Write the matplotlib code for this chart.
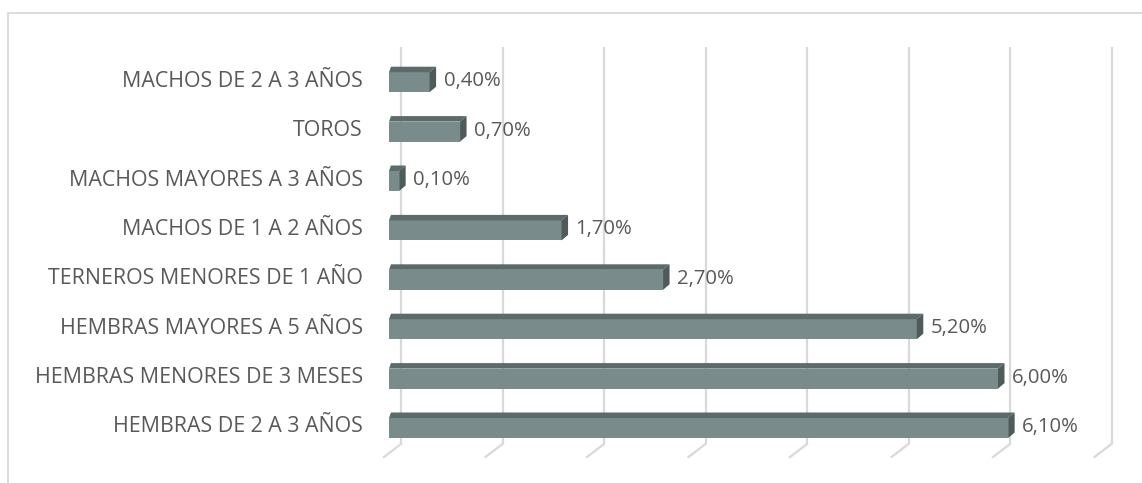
import matplotlib
matplotlib.use("Agg")
import matplotlib.pyplot as plt
from matplotlib.patches import Polygon, Rectangle
from matplotlib.lines import Line2D

categories = [
    "HEMBRAS DE 2 A 3 AÑOS",
    "HEMBRAS MENORES DE 3 MESES",
    "HEMBRAS MAYORES A 5 AÑOS",
    "TERNEROS MENORES DE 1 AÑO",
    "MACHOS DE 1 A 2 AÑOS",
    "MACHOS MAYORES A 3 AÑOS",
    "TOROS",
    "MACHOS DE 2 A 3 AÑOS",
]
values = [6.1, 6.0, 5.2, 2.7, 1.7, 0.1, 0.7, 0.4]
value_labels = ["6,10%", "6,00%", "5,20%", "2,70%", "1,70%", "0,10%", "0,70%", "0,40%"]
grid_ticks = [0, 1, 2, 3, 4, 5, 6, 7]

W, H = 1142, 483
fig = plt.figure(figsize=(W / 100, H / 100), dpi=100)
ax = fig.add_axes([0, 0, 1, 1])
ax.axis("off")

# pixel mapping
X0 = 389.0      # pixel of value 0 (front face)
PXU = 101.5     # pixels per 1 %
Y0 = 428.0      # pixel center of first bar
PYC = 49.4      # pixels per category
ax.set_xlim(-X0 / PXU, (W - X0) / PXU)
ax.set_ylim((Y0 - H) / PYC, Y0 / PYC)

def dx(px):
    return px / PXU

def dy(px):
    return px / PYC

font = "Open Sans"
fs_cat = 15.4
fs_val = 14.6
txt_col = "#595959"
front = "#798b8b"
topc = "#5b6a6a"
sidec = "#4f5b5b"
gridc = "#d9d9d9"

# gridlines (back plane) with floor slant
for t in grid_ticks:
    xb = t + dx(12)
    ax.plot([xb, xb], [dy(Y0 - 47), dy(Y0 - 444)], color=gridc, lw=1.6, zorder=1,
             solid_capstyle="butt")
    ax.plot([xb, xb - dx(17)], [dy(Y0 - 444), dy(Y0 - 457)], color=gridc, lw=1.6, zorder=1)

bh = 20 / PYC
ddx, ddy = dx(6.5), dy(5.5)
for i, v in enumerate(values):
    yb = i - bh / 2
    yt = i + bh / 2
    ax.add_patch(Rectangle((0, yb), v, bh, facecolor=front, edgecolor="none", zorder=3))
    ax.add_patch(Polygon([(0, yt), (v, yt), (v + ddx, yt + ddy), (ddx * 0.3, yt + ddy)],
                         closed=True, facecolor=topc, edgecolor="none", zorder=3))
    ax.add_patch(Polygon([(v, yb), (v, yt), (v + ddx, yt + ddy), (v + ddx, yb + ddy)],
                         closed=True, facecolor=sidec, edgecolor="none", zorder=3))
    ax.text(v + dx(14), i + dy(1), value_labels[i], ha="left", va="center", fontsize=fs_val,
            color=txt_col, family=font, zorder=4)
    ax.text(dx(363 - X0), i + dy(1), categories[i], ha="right", va="center", fontsize=fs_cat,
            color=txt_col, family=font, zorder=4)

# chart border (only top and left visible, cropped)
fig.add_artist(Line2D([8 / W, 8 / W, 1], [0, 1 - 12.5 / H, 1 - 12.5 / H],
                      transform=fig.transFigure, color="#d9d9d9", lw=1.3))

fig.savefig("out.png", dpi=100, facecolor="white")
